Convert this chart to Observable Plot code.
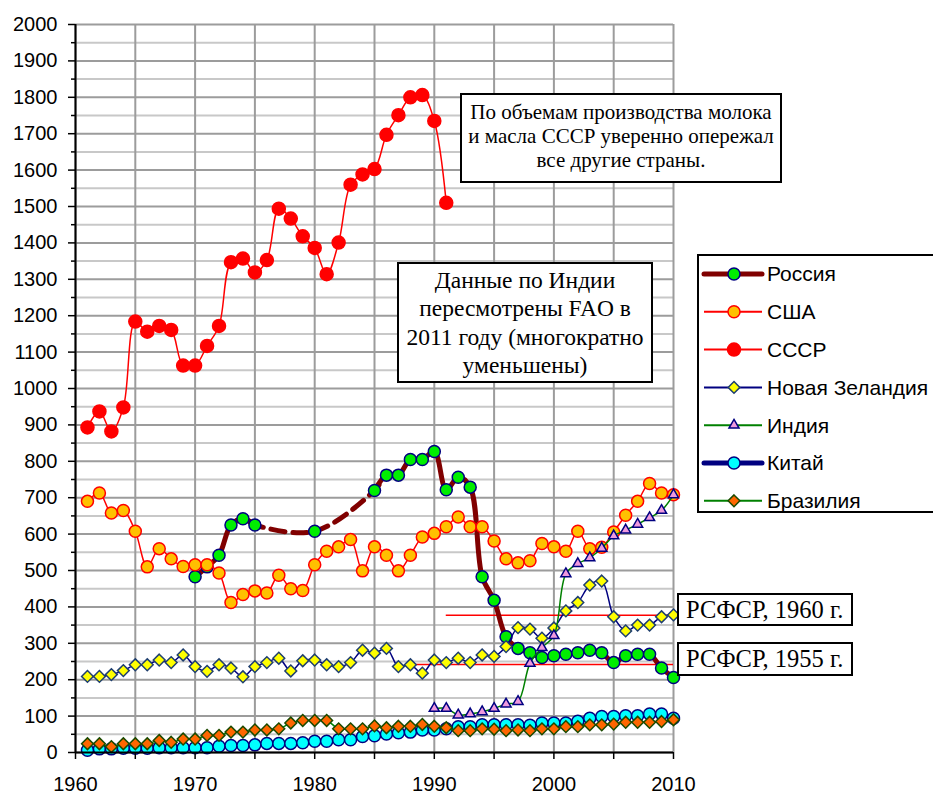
<!DOCTYPE html>
<html><head><meta charset="utf-8">
<script src="https://cdn.jsdelivr.net/npm/d3@7"></script>
<script src="https://cdn.jsdelivr.net/npm/@observablehq/plot@0.6"></script>
<style>
body{margin:0;background:#fff;}
#wrap{position:relative;width:933px;height:796px;overflow:hidden;background:#fff;}
#wrap svg.plot{position:absolute;left:0;top:0;}
.box{position:absolute;border:2px solid #000;background:#fff;box-sizing:border-box;font-family:"Liberation Serif","Times New Roman",serif;color:#000;}
</style></head>
<body><div id="wrap"></div>
<script>
// ---------- DATA ----------
const years = [1961,1962,1963,1964,1965,1966,1967,1968,1969,1970,1971,1972,1973,1974,1975,1976,1977,1978,1979,1980,1981,1982,1983,1984,1985,1986,1987,1988,1989,1990,1991,1992,1993,1994,1995,1996,1997,1998,1999,2000,2001,2002,2003,2004,2005,2006,2007,2008,2009,2010];
const ussrYears = [1961,1962,1963,1964,1965,1966,1967,1968,1969,1970,1971,1972,1973,1974,1975,1976,1977,1978,1979,1980,1981,1982,1983,1984,1985,1986,1987,1988,1989,1990,1991];
const indiaYears = [1990,1991,1992,1993,1994,1995,1996,1997,1998,1999,2000,2001,2002,2003,2004,2005,2006,2007,2008,2009,2010];

const russia = [null,null,null,null,null,null,null,null,null,483,510,542,625,642,625,null,null,null,null,608,null,null,null,null,720,762,762,805,805,827,722,756,729,483,418,318,286,274,261,266,270,274,281,274,247,266,270,270,232,206];
const usa = [690,713,658,665,608,510,560,532,511,516,516,493,412,434,444,438,487,450,445,516,553,565,585,499,565,542,499,542,592,602,620,647,620,620,581,532,521,527,574,565,553,608,560,564,606,652,690,739,713,708];
const ussr = [893,937,882,948,1184,1156,1172,1161,1063,1063,1117,1172,1347,1357,1319,1353,1494,1467,1418,1386,1314,1401,1560,1588,1603,1697,1751,1800,1806,1735,1510];
const newZealand = [209,209,214,225,241,241,254,247,268,236,223,241,232,208,236,247,259,224,252,254,241,236,247,281,273,286,236,241,218,254,247,259,247,268,264,291,343,339,314,342,389,412,460,471,373,334,350,350,373,378];
const india = [121,121,103,106,112,121,133,140,245,288,321,491,519,535,561,595,611,627,645,665,708];
const china = [6,10,10,12,12,12,13,13,13,13,13,17,19,19,21,25,25,25,27,31,31,35,35,44,46,51,54,56,62,62,65,71,71,76,76,76,76,75,81,81,81,86,94,99,99,101,101,106,106,94];
const brazil = [24,24,16,24,24,24,33,28,37,37,47,47,56,56,62,62,65,81,88,88,88,65,65,65,73,68,72,72,77,72,68,60,60,65,64,60,62,60,65,65,71,71,76,76,78,83,83,83,85,90];

const refLabels = ["РСФСР, 1960 г.", "РСФСР, 1955 г."];
const refValues = [377, 242];
const refFrom = [1991, 1988];
const refTo = [2010, 2010];

const seriesNames = ["Россия","США","СССР","Новая Зеландия","Индия","Китай","Бразилия"];
const xTicks = [1960,1965,1970,1975,1980,1985,1990,1995,2000,2005,2010];
const xLabels = [1960,1970,1980,1990,2000,2010];
const yMajor = [0,100,200,300,400,500,600,700,800,900,1000,1100,1200,1300,1400,1500,1600,1700,1800,1900,2000];
const yMinor = [50,150,250,350,450,550,650,750,850,950,1050,1150,1250,1350,1450,1550,1650,1750,1850,1950];

const note1 = ["По объемам производства молока","и масла СССР уверенно опережал","все другие страны."];
const note2 = ["Данные по Индии","пересмотрены FAO в","2011 году (многократно","уменьшены)"];

// ---------- TABLES ----------
const rows = (xs, vs) => xs.map((x, i) => ({year: x, value: vs[i]}));
const def = arr => arr.filter(d => d.value != null);
const R = rows(years, russia), U = rows(years, usa), S = rows(ussrYears, ussr),
      N = rows(years, newZealand), I = rows(indiaYears, india), C = rows(years, china), B = rows(years, brazil);
const Rdash = def(R).filter(d => d.year >= 1973 && d.year <= 1987);
const refs = refLabels.map((l, i) => ({label: l, value: refValues[i], from: refFrom[i], to: refTo[i]}));

const curve = "catmull-rom";
const st = {
  russia: {line: "#800000", lw: 5, fill: "#00ee00", stroke: "#000080", symbol: "circle", r: 6},
  usa: {line: "#ff0000", lw: 1.5, fill: "#ffc000", stroke: "#ff0000", symbol: "circle", r: 6},
  ussr: {line: "#ff0000", lw: 1.5, fill: "#ff0000", stroke: "#ff0000", symbol: "circle", r: 6.5},
  nz: {line: "#000080", lw: 1.5, fill: "#ffff00", stroke: "#1f3f6f", symbol: "diamond2", r: 5.3},
  india: {line: "#008000", lw: 1.5, fill: "#ee99dd", stroke: "#000080", symbol: "triangle2", r: 4.8},
  china: {line: "#000080", lw: 4, fill: "#00ffff", stroke: "#000080", symbol: "circle", r: 6},
  brazil: {line: "#008000", lw: 1.5, fill: "#ff6600", stroke: "#1a4a00", symbol: "diamond2", r: 5.3}
};
function series(data, s) {
  return [
    Plot.line(data, {x: "year", y: "value", stroke: s.line, strokeWidth: s.lw, curve}),
    Plot.dot(def(data), {x: "year", y: "value", r: s.r, symbol: s.symbol, fill: s.fill, stroke: s.stroke, strokeWidth: 1.5})
  ];
}

const chart = Plot.plot({
  width: 933, height: 796,
  marginLeft: 75, marginRight: 260, marginTop: 24, marginBottom: 44,
  x: {domain: [1960, 2010]},
  y: {domain: [0, 2000]},
  style: {fontFamily: "'Liberation Sans', Arial, sans-serif", fontSize: "20px", color: "#000", background: "transparent"},
  marks: [
    Plot.gridY(yMinor, {stroke: "#c8c8c8", strokeOpacity: 1, strokeWidth: 2}),
    Plot.gridY(yMajor, {stroke: "#9c9c9c", strokeOpacity: 1, strokeWidth: 2}),
    Plot.gridX(xTicks, {stroke: "#9c9c9c", strokeOpacity: 1, strokeWidth: 2}),
    Plot.ruleY(refs, {y: "value", x1: "from", x2: "to", stroke: "#ff0000", strokeWidth: 1.5}),
    Plot.line(Rdash, {x: "year", y: "value", stroke: st.russia.line, strokeWidth: 5, strokeDasharray: "14,8", curve}),
    ...series(R, st.russia),
    ...series(U, st.usa),
    ...series(S, st.ussr),
    ...series(N, st.nz),
    ...series(I, st.india),
    ...series(C, st.china),
    ...series(B, st.brazil),
    Plot.axisY(yMajor, {tickSize: 7, tickPadding: 11, strokeWidth: 1.5, label: null, tickFormat: d => String(d)}),
    Plot.axisY(yMinor, {tickSize: 4, text: null, strokeWidth: 1.5, label: null}),
    Plot.axisX(xTicks, {tickSize: 7, tickPadding: 17, strokeWidth: 1.5, label: null,
      tickFormat: d => xLabels.includes(d) ? String(d) : ""}),
    Plot.ruleX([1960], {stroke: "#000", strokeWidth: 2}),
    Plot.ruleY([0], {stroke: "#000", strokeWidth: 2})
  ]
});
chart.classList.add("plot");
const wrap = document.getElementById("wrap");
wrap.appendChild(chart);

// ---------- ANNOTATIONS ----------
function box(lines, css) {
  const d = document.createElement("div");
  d.className = "box";
  Object.assign(d.style, css);
  d.innerHTML = lines.map(l => `<div>${l}</div>`).join("");
  wrap.appendChild(d);
  return d;
}
box(note1, {left: "460px", top: "93px", width: "322px", height: "90px", fontSize: "21px", lineHeight: "24px", paddingTop: "5px", textAlign: "center", whiteSpace: "nowrap"});
box(note2, {left: "397px", top: "262px", width: "256px", height: "121px", fontSize: "23.5px", lineHeight: "28.3px", paddingTop: "2px", textAlign: "center", whiteSpace: "nowrap"});
box([refs[0].label], {left: "677px", top: "593px", width: "176px", height: "33px", fontSize: "24.5px", lineHeight: "29px", paddingLeft: "7px", textAlign: "left", whiteSpace: "nowrap"});
box([refs[1].label], {left: "677px", top: "642px", width: "176px", height: "34px", fontSize: "24.5px", lineHeight: "30px", paddingLeft: "7px", textAlign: "left", whiteSpace: "nowrap"});

// ---------- LEGEND ----------
const legStyles = [st.russia, st.usa, st.ussr, st.nz, st.india, st.china, st.brazil];
const leg = document.createElement("div");
Object.assign(leg.style, {position: "absolute", left: "697px", top: "254px", width: "260px", height: "259px", border: "2px solid #000", boxSizing: "border-box", background: "#fff"});
const lsvg = d3.create("svg").attr("width", 256).attr("height", 255).style("position", "absolute").style("left", "0px").style("top", "0px");
seriesNames.forEach((name, i) => {
  const s = legStyles[i];
  const y = 18 + i * 37.8;
  const g = lsvg.append("g").attr("transform", `translate(0,${y})`);
  g.append("line").attr("x1", 5).attr("x2", 63).attr("y1", 0).attr("y2", 0)
    .attr("stroke", s.line).attr("stroke-width", s.lw === 1.5 ? 2 : 5).attr("stroke-linecap", s.lw === 1.5 ? "butt" : "round");
  const sym = {circle: d3.symbolCircle, diamond2: d3.symbolDiamond2, triangle2: d3.symbolTriangle2}[s.symbol];
  g.append("path").attr("transform", "translate(35,0)").attr("d", d3.symbol(sym, Math.PI * s.r * s.r)())
    .attr("fill", s.fill).attr("stroke", s.stroke).attr("stroke-width", 1.5);
  g.append("text").attr("x", 68).attr("y", 0).attr("dy", "0.35em")
    .attr("font-family", "'Liberation Sans', Arial, sans-serif").attr("font-size", 21).text(name);
});
leg.appendChild(lsvg.node());
wrap.appendChild(leg);
</script>
</body></html>
